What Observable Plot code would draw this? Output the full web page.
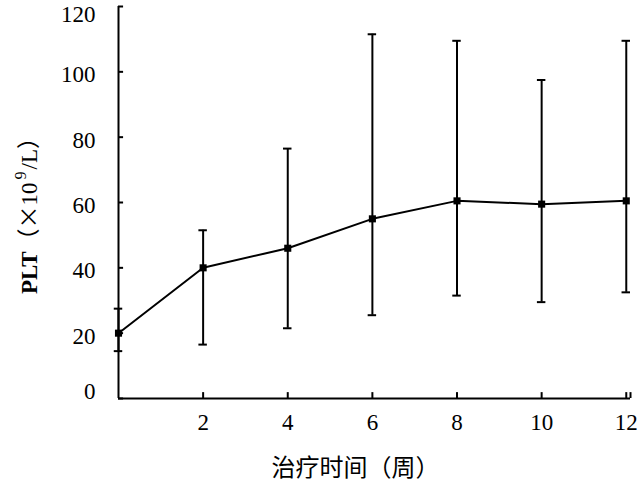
<!DOCTYPE html>
<html>
<head>
<meta charset="utf-8">
<script src="https://cdn.jsdelivr.net/npm/d3@7"></script>
<script src="https://cdn.jsdelivr.net/npm/@observablehq/plot@0.6"></script>
<style>
  html, body { margin: 0; padding: 0; background: #fff; }
</style>
</head>
<body>
<div id="chart"></div>
<script>
const weeks = [0, 2, 4, 6, 8, 10, 12];
const means = [20, 40, 46, 55, 60.5, 59.5, 60.5];
const lower = [14.5, 16.5, 21.5, 25.5, 31.5, 29.5, 32.5];
const upper = [27.5, 51.5, 76.5, 111.5, 109.5, 97.5, 109.5];
const xTicks = [2, 4, 6, 8, 10, 12];
const yTicks = [0, 20, 40, 60, 80, 100, 120];
const xLabel = "治疗时间（周）";
const xEnd = 12.1;

const data = weeks.map((w, i) => ({w, m: means[i], lo: lower[i], hi: upper[i]}));
const serif = "'Liberation Serif', 'Times New Roman', serif";

const plot = Plot.plot({
  width: 640,
  height: 483,
  marginLeft: 118,
  marginRight: 10,
  marginTop: 6,
  marginBottom: 85,
  x: {domain: [0, xEnd]},
  y: {domain: [0, 120]},
  style: {fontFamily: serif, fontSize: "23px", color: "#000", background: "#fff"},
  marks: [
    Plot.axisX(xTicks, {tickSize: 0, tickPadding: 15, label: null, fontSize: 23}),
    Plot.axisY(yTicks.filter(t => t > 0 && t < 120), {tickSize: 0, tickPadding: 23, dy: 3, label: null, fontSize: 23}),
    Plot.axisY(yTicks.filter(t => t === 120), {tickSize: 0, tickPadding: 23, dy: 8, label: null, fontSize: 23}),
    Plot.axisY(yTicks.filter(t => t === 0), {tickSize: 0, tickPadding: 23, dy: -7, label: null, fontSize: 23}),
    Plot.ruleY(yTicks, {x1: 0, x2: 0.12, strokeWidth: 2}),
    Plot.ruleX([...xTicks, xEnd], {y1: 0, y2: 1.8, strokeWidth: 2}),
    Plot.ruleX([0], {y1: 0, y2: 120, strokeWidth: 2}),
    Plot.ruleY([0], {x1: 0, x2: xEnd, strokeWidth: 2}),
    Plot.ruleX(data, {x: "w", y1: "lo", y2: "hi", strokeWidth: 2}),
    Plot.ruleY(data, {y: "lo", x1: d => d.w - 0.1, x2: d => d.w + 0.1, strokeWidth: 2}),
    Plot.ruleY(data, {y: "hi", x1: d => d.w - 0.1, x2: d => d.w + 0.1, strokeWidth: 2}),
    Plot.line(data, {x: "w", y: "m", strokeWidth: 2, stroke: "#000"}),
    Plot.dot(data, {x: "w", y: "m", symbol: "square", r: 4, fill: "#000", stroke: "none"}),
    Plot.text([xLabel], {frameAnchor: "bottom", dx: -19, dy: 70, fontSize: 24,
      fontFamily: "'Noto Sans CJK SC', sans-serif", lineAnchor: "middle"})
  ]
});

const svg = d3.select(plot);
const yl = svg.append("text")
  .attr("transform", "translate(37,210) rotate(-90)")
  .attr("text-anchor", "middle")
  .attr("font-family", serif + ", 'Noto Sans CJK SC'")
  .attr("font-size", 23)
  .attr("fill", "#000");
yl.append("tspan").attr("font-weight", "bold").text("PLT");
yl.append("tspan").attr("font-family", "'Noto Sans CJK SC'").text("（×");
yl.append("tspan").text("10");
yl.append("tspan").attr("font-size", 16).attr("dy", -11).attr("dx", 3).text("9");
yl.append("tspan").attr("dy", 11).attr("dx", 2).text("/L");
yl.append("tspan").attr("font-family", "'Noto Sans CJK SC'").text("）");

document.getElementById("chart").appendChild(plot);
</script>
</body>
</html>
